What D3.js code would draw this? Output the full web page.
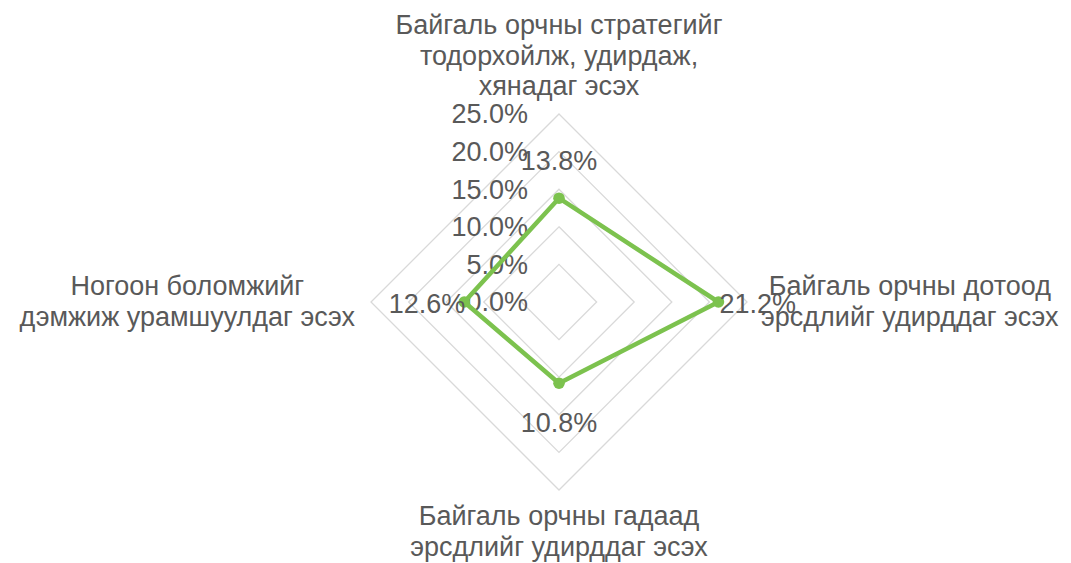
<!DOCTYPE html>
<html>
<head>
<meta charset="utf-8">
<script src="https://cdn.jsdelivr.net/npm/d3@7"></script>
<style>
  html, body { margin: 0; padding: 0; background: #fff; }
  svg { display: block; font-family: "Liberation Sans", Arial, sans-serif; }
</style>
</head>
<body>
<div id="chart"></div>
<script>
// Categories (clockwise from the top), one array of lines per category.
const categories = [
  ["Байгаль орчны стратегийг", "тодорхойлж, удирдаж,", "хянадаг эсэх"],
  ["Байгаль орчны дотоод", "эрсдлийг удирддаг эсэх"],
  ["Байгаль орчны гадаад", "эрсдлийг удирддаг эсэх"],
  ["Ногоон боломжийг", "дэмжиж урамшуулдаг эсэх"],
];
// Series values in percent.
const values = [13.8, 21.2, 10.8, 12.6];
// Radial axis ticks.
const ticks = [0, 5, 10, 15, 20, 25];

const width = 1071;
const height = 563;
const cx = 559;
const cy = 302;
const radius = 188;
const fontSize = 27;
const lineHeight = 30.5;
const textColor = "#595959";
const gridColor = "#d9d9d9";
const color = "#7cc24e";

const svg = d3
  .select("#chart")
  .append("svg")
  .attr("width", width)
  .attr("height", height);

const g = svg.append("g").attr("transform", `translate(${cx},${cy})`);

// Radial scale and angle for each category.
const r = d3.scaleLinear().domain([0, d3.max(ticks)]).range([0, radius]);
const angleStep = (2 * Math.PI) / categories.length;
const a = (i) => i * angleStep;

// Grid rings (polygons).
const ring = d3
  .lineRadial()
  .angle((d, i) => a(i))
  .radius((d) => d)
  .curve(d3.curveLinearClosed);

g.selectAll("path.ring")
  .data(ticks.filter((t) => t > 0))
  .join("path")
  .attr("class", "ring")
  .attr("d", (t) => ring(categories.map(() => r(t))))
  .attr("fill", "none")
  .attr("stroke", gridColor)
  .attr("stroke-width", 1.3);

// Tick labels along the top axis.
g.selectAll("text.tick")
  .data(ticks)
  .join("text")
  .attr("class", "tick")
  .attr("x", -31)
  .attr("y", (t) => -r(t))
  .attr("dy", "0.35em")
  .attr("text-anchor", "end")
  .attr("font-size", fontSize)
  .attr("fill", textColor)
  .text((t) => t.toFixed(1) + "%");

// Series line.
const seriesLine = d3
  .lineRadial()
  .angle((d, i) => a(i))
  .radius((d) => r(d))
  .curve(d3.curveLinearClosed);

g.append("path")
  .datum(values)
  .attr("d", seriesLine)
  .attr("fill", "none")
  .attr("stroke", color)
  .attr("stroke-width", 4.5)
  .attr("stroke-linejoin", "round");

const point = (v, i) => [
  Math.sin(a(i)) * r(v),
  -Math.cos(a(i)) * r(v),
];

g.selectAll("circle.value")
  .data(values)
  .join("circle")
  .attr("class", "value")
  .attr("cx", (d, i) => point(d, i)[0])
  .attr("cy", (d, i) => point(d, i)[1])
  .attr("r", 5.8)
  .attr("fill", color);

// Data labels: above, right, below, left of the point.
const labelOffset = [
  { dx: 0, dy: -28, anchor: "middle" },
  { dx: 1, dy: 11, anchor: "start" },
  { dx: 0, dy: 49, anchor: "middle" },
  { dx: 1, dy: 11, anchor: "end" },
];

g.selectAll("text.data-label")
  .data(values)
  .join("text")
  .attr("class", "data-label")
  .attr("x", (d, i) => point(d, i)[0] + labelOffset[i].dx)
  .attr("y", (d, i) => point(d, i)[1] + labelOffset[i].dy)
  .attr("text-anchor", (d, i) => labelOffset[i].anchor)
  .attr("font-size", fontSize)
  .attr("fill", textColor)
  .text((d) => d.toFixed(1) + "%");

// Category labels outside the outer ring.
categories.forEach((lines, i) => {
  const label = g
    .append("text")
    .attr("class", "category")
    .attr("text-anchor", "middle")
    .attr("font-size", fontSize)
    .attr("fill", textColor);
  lines.forEach((line, j) => {
    label.append("tspan").attr("x", 0).attr("y", j * lineHeight).text(line);
  });
  const w = d3.max(label.selectAll("tspan").nodes(), (n) => n.getComputedTextLength());
  const n = lines.length;
  let x = 0;
  let y = 0;
  if (i === 0) {
    // Above the top vertex, last baseline just above it.
    y = -radius - 19 - (n - 1) * lineHeight;
  } else if (i === 1) {
    x = radius + 14 + w / 2;
    y = -7;
  } else if (i === 2) {
    y = radius + 35;
  } else {
    x = -radius - 16 - w / 2;
    y = -7;
  }
  label.attr("transform", `translate(${x},${y})`);
});
</script>
</body>
</html>
